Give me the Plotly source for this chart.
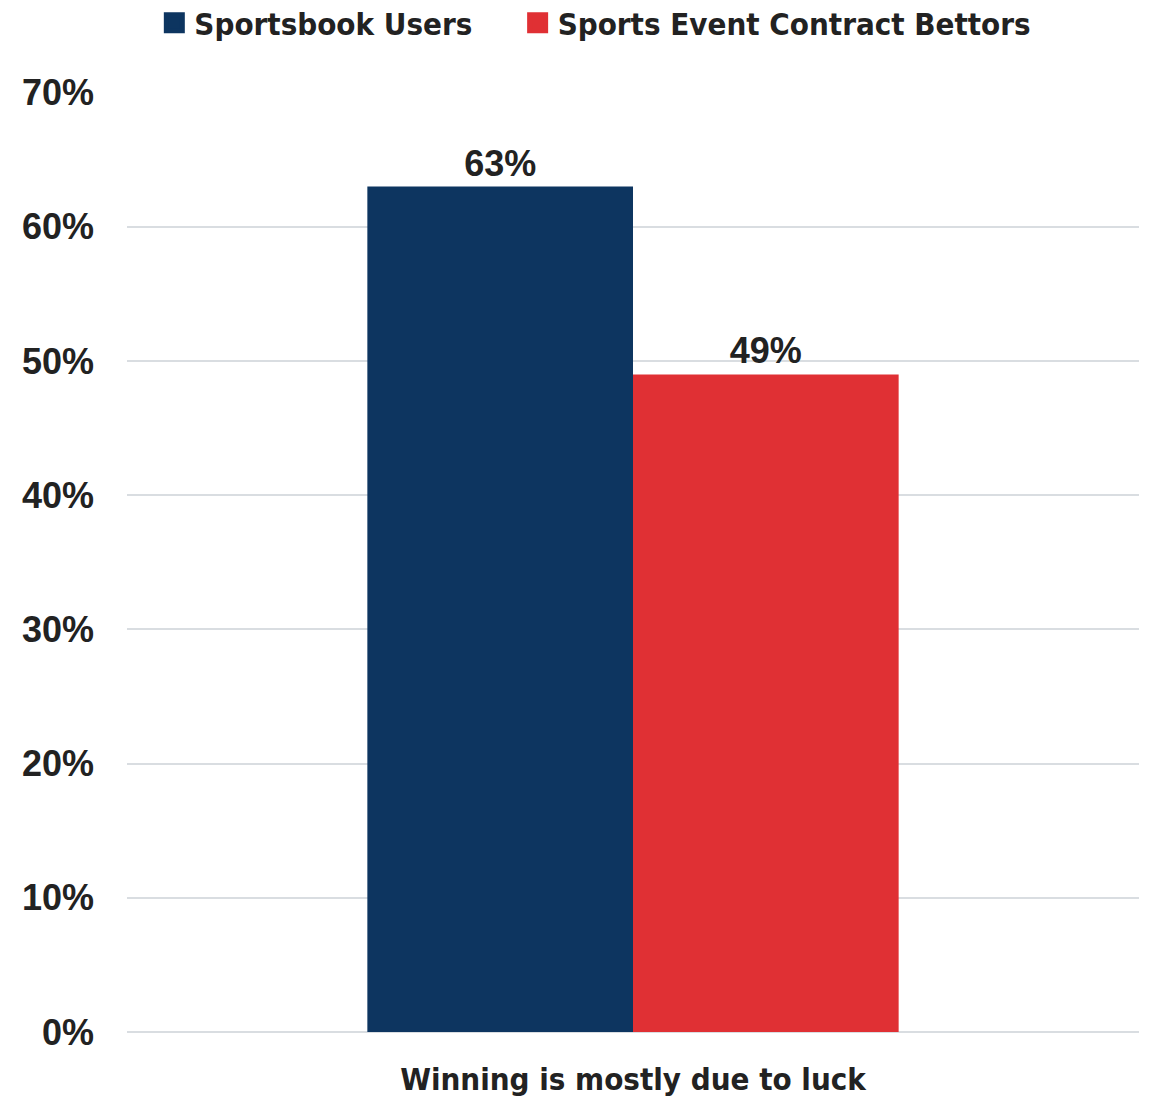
import plotly.graph_objects as go

categories = ["Winning is mostly due to luck"]
series_names = ["Sportsbook Users", "Sports Event Contract Bettors"]
sportsbook_values = [63]
contract_values = [49]
y_ticks = [0, 10, 20, 30, 40, 50, 60, 70]
y_tick_labels = ["0%", "10%", "20%", "30%", "40%", "50%", "60%", "70%"]

colors = ["#0d3560", "#e03034"]
legend_ids = ["legend", "legend2"]
narrow = "DejaVu Sans Condensed"
regular = "Liberation Sans, Arial, sans-serif"

fig = go.Figure()
for name, vals, col, lg in zip(series_names, [sportsbook_values, contract_values], colors, legend_ids):
    fig.add_trace(go.Bar(
        x=categories, y=vals, name=name, marker=dict(color=col, line=dict(width=0)),
        text=[f"{v}%" for v in vals], textposition="outside", cliponaxis=False,
        textfont=dict(family=regular, size=36, color="#222222", weight="bold"),
        showlegend=False,
    ))
    fig.add_trace(go.Scatter(
        x=[None], y=[None], mode="markers", name=name, legend=lg,
        marker=dict(symbol="square", size=16, color=col, line=dict(color=col, width=5)),
        showlegend=True,
    ))

leg_common = dict(orientation="h", xanchor="left", y=0.979, yanchor="middle", yref="container",
                  font=dict(family=narrow, size=31, color="#222222", weight="bold"),
                  itemwidth=30, bgcolor="rgba(0,0,0,0)")

fig.update_layout(
    width=1152, height=1101,
    margin=dict(l=127, r=13, t=92, b=69, autoexpand=False),
    paper_bgcolor="white", plot_bgcolor="white",
    barmode="group", bargap=0.475, bargroupgap=0,
    legend=dict(x=0.027, **leg_common),
    legend2=dict(x=0.386, **leg_common),
    xaxis=dict(showgrid=False, showline=False, ticks="", ticklabelstandoff=26, automargin=False,
               tickfont=dict(family=narrow, size=31, color="#222222", weight="bold")),
    yaxis=dict(range=[0, 70.05], tickvals=y_ticks, ticktext=y_tick_labels, automargin=False,
               showgrid=True, gridcolor="#d9dde1", gridwidth=2,
               zeroline=True, zerolinecolor="#d9dde1", zerolinewidth=2,
               showline=False, ticks="", ticklabelstandoff=32,
               tickfont=dict(family=regular, size=36, color="#222222", weight="bold")),
    font=dict(family=regular, color="#222222"),
)

fig.write_html("out.html")
